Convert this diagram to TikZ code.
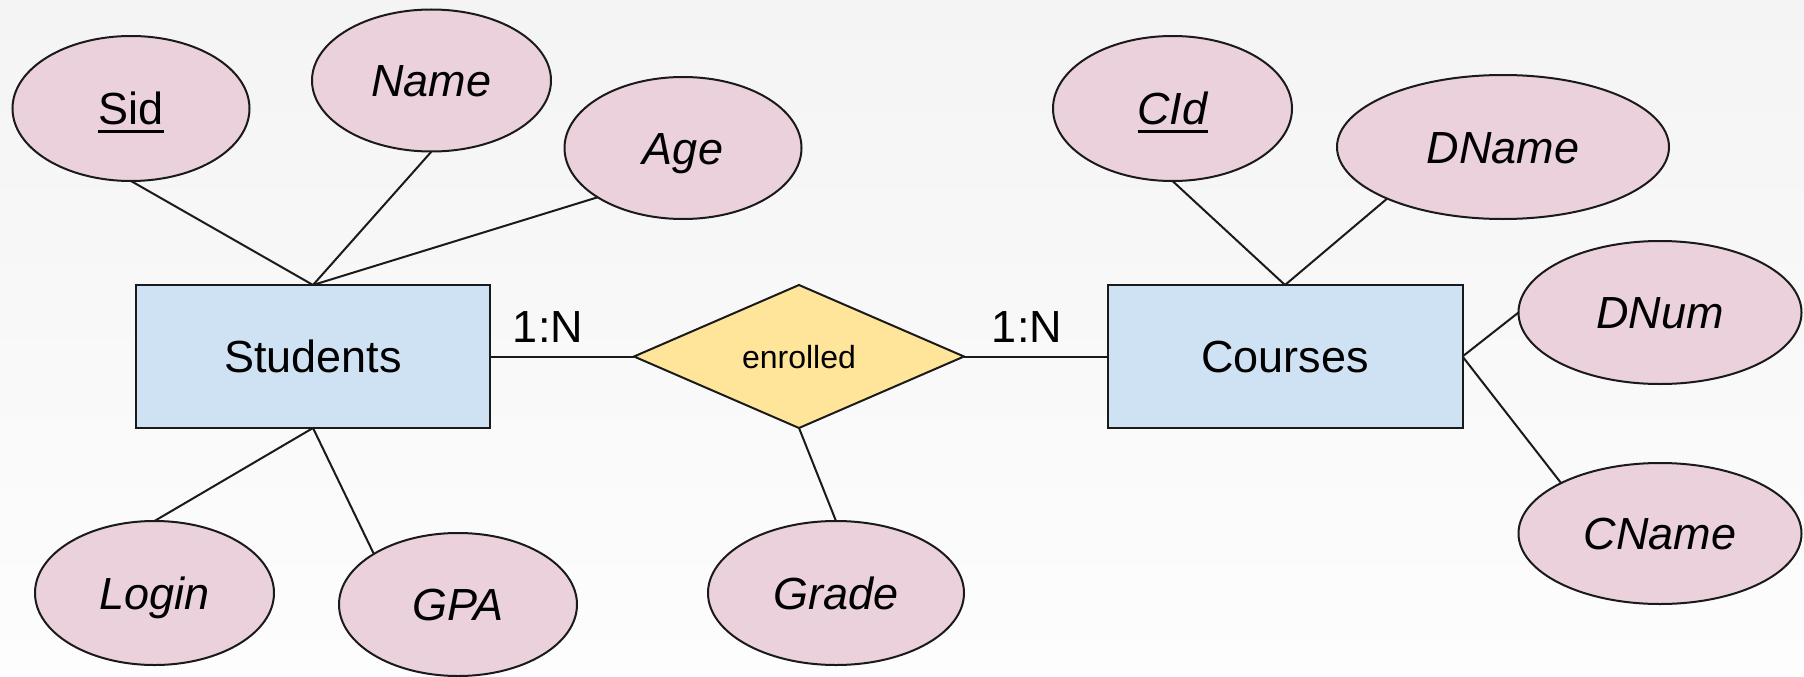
\documentclass[tikz,border=0pt]{standalone}
\usepackage{fontspec}
\setmainfont{Liberation Sans}
\usetikzlibrary{shapes.geometric}
\definecolor{bgtop}{HTML}{F4F4F4}
\definecolor{bgbot}{HTML}{FDFDFD}
\definecolor{attrfill}{HTML}{EAD1DC}
\definecolor{entfill}{HTML}{CFE2F3}
\definecolor{relfill}{HTML}{FFE599}
\definecolor{edgecol}{HTML}{1A1A1A}
\newcommand\keyattr[1]{\setbox0\hbox{#1}\rlap{\rule[-8pt]{\wd0}{3pt}}\box0}
\tikzset{
  attr/.style={ellipse, draw=edgecol, line width=2pt, fill=attrfill, inner sep=0pt, outer sep=0pt,
    font=\fontsize{45}{54}\selectfont\itshape, text height=32pt, text depth=0pt},
  entity/.style={rectangle, draw=edgecol, line width=2pt, fill=entfill, inner sep=0pt, outer sep=0pt,
    minimum width=354pt, minimum height=143pt,
    font=\fontsize{45}{54}\selectfont, text height=32pt, text depth=0pt},
  rel/.style={diamond, draw=edgecol, line width=2pt, fill=relfill, inner sep=0pt, outer sep=0pt,
    minimum width=330pt, minimum height=143pt,
    font=\fontsize{32}{38}\selectfont, text height=23pt, text depth=0pt},
  card/.style={inner sep=0pt, font=\fontsize{45}{54}\selectfont, text height=32pt, text depth=0pt},
  conn/.style={draw=edgecol, line width=2pt}
}
\begin{document}
\begin{tikzpicture}[x=1pt,y=-1pt]
\shade[top color=bgtop, bottom color=bgbot] (0,0) rectangle (1804,677);
\useasboundingbox (0,0) rectangle (1804,677);

% entities and relationship
\node[entity] (students) at (313,356.5) {Students};
\node[entity, minimum width=355pt] (courses) at (1285,356.5) {Courses};
\node[rel] (enrolled) at (799,356.5) {enrolled};

% attributes of Students
\node[attr, minimum width=237pt, minimum height=145pt] (sid) at (131,108.5) {\upshape\keyattr{Sid}};
\node[attr, minimum width=239pt, minimum height=142pt] (name) at (431.5,80.5) {Name};
\node[attr, minimum width=237pt, minimum height=142pt] (age) at (683,148) {Age};
\node[attr, minimum width=239pt, minimum height=144pt] (login) at (154.5,593) {Login};
\node[attr, minimum width=238pt, minimum height=143pt] (gpa) at (458,604.5) {GPA};

% attribute of relationship
\node[attr, minimum width=256pt, minimum height=144pt] (grade) at (836,593) {Grade};

% attributes of Courses
\node[attr, minimum width=239pt, minimum height=145pt] (cid) at (1172.5,108.5) {\keyattr{CId}};
\node[attr, minimum width=332pt, minimum height=144pt] (dname) at (1503,147) {DName};
\node[attr, minimum width=283pt, minimum height=143pt] (dnum) at (1660,312.5) {DNum};
\node[attr, minimum width=283pt, minimum height=141pt] (cname) at (1660,533.5) {CName};

% cardinalities
\node[card] (cardL) at (548,326) {1:N};
\node[card] (cardR) at (1027,326) {1:N};

% connectors
\draw[conn] (sid.south) -- (students.north);
\draw[conn] (name.south) -- (students.north);
\draw[conn] (age.210) -- (students.north);
\draw[conn] (students.south) -- (login.north);
\draw[conn] (students.south) -- (gpa.149);
\draw[conn] (students.east) -- (enrolled.west);
\draw[conn] (enrolled.east) -- (courses.west);
\draw[conn] (enrolled.south) -- (grade.north);
\draw[conn] (cid.south) -- (courses.north);
\draw[conn] (dname.204) -- (courses.north);
\draw[conn] (courses.east) -- (dnum.west);
\draw[conn] (courses.east) -- (cname.153);
\end{tikzpicture}
\end{document}
